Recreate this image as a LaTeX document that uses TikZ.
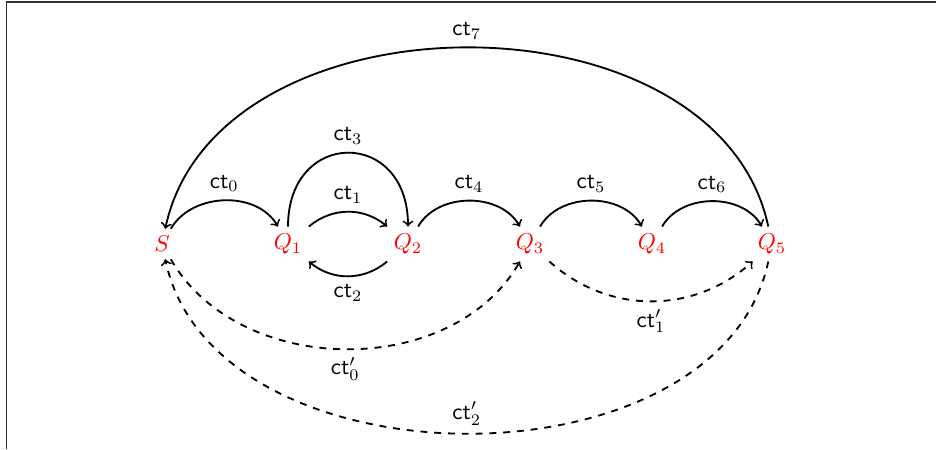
\documentclass[tikz,border=0pt]{standalone}
\usepackage{tikz}
\begin{document}
\begin{tikzpicture}[x=0.4348pt,y=-0.4348pt,
  st/.style={text=red,inner sep=3pt},
  tr/.style={->,thick,black},
  dtr/.style={->,thick,dashed,black},
  lb/.style={font=\sffamily,inner sep=3.3pt}]
\useasboundingbox (0,0) rectangle (936,449);
\draw[line width=0.7pt,black!80] (6.5,449) -- (6.5,2) -- (936,2);
\node[st] (s)  at (162,244) {$S$};
\node[st] (q1) at (288,244) {$Q_1$};
\node[st] (q2) at (408,244) {$Q_2$};
\node[st] (q3) at (530,244) {$Q_3$};
\node[st] (q4) at (652,244) {$Q_4$};
\node[st] (q5) at (772,244) {$Q_5$};
\draw[tr] (s) to[out=60,in=120] node[lb,above] {ct$_0$} (q1);
\draw[tr] (q1) to[out=40,in=140] node[lb,above] {ct$_1$} (q2);
\draw[tr] (q2) to[out=-140,in=-40] node[lb,below] {ct$_2$} (q1);
\draw[tr] (q1) to[out=90,in=90,looseness=2.1] node[lb,above] {ct$_3$} (q2);
\draw[tr] (q2) to[out=60,in=120] node[lb,above] {ct$_4$} (q3);
\draw[tr] (q3) to[out=60,in=120] node[lb,above] {ct$_5$} (q4);
\draw[tr] (q4) to[out=60,in=120] node[lb,above] {ct$_6$} (q5);
\draw[tr] (q5) to[out=102,in=78,looseness=1.04] node[lb,above] {ct$_7$} (s);
\draw[dtr] (s) to[out=-60,in=-120] node[lb,below] {ct$'_0$} (q3);
\draw[dtr] (q3) to[out=-42,in=-138] node[lb,below] {ct$'_1$} (q5);
\draw[dtr] (q5) to[out=-102,in=-78] node[lb,above] {ct$'_2$} (s);
\end{tikzpicture}
\end{document}
